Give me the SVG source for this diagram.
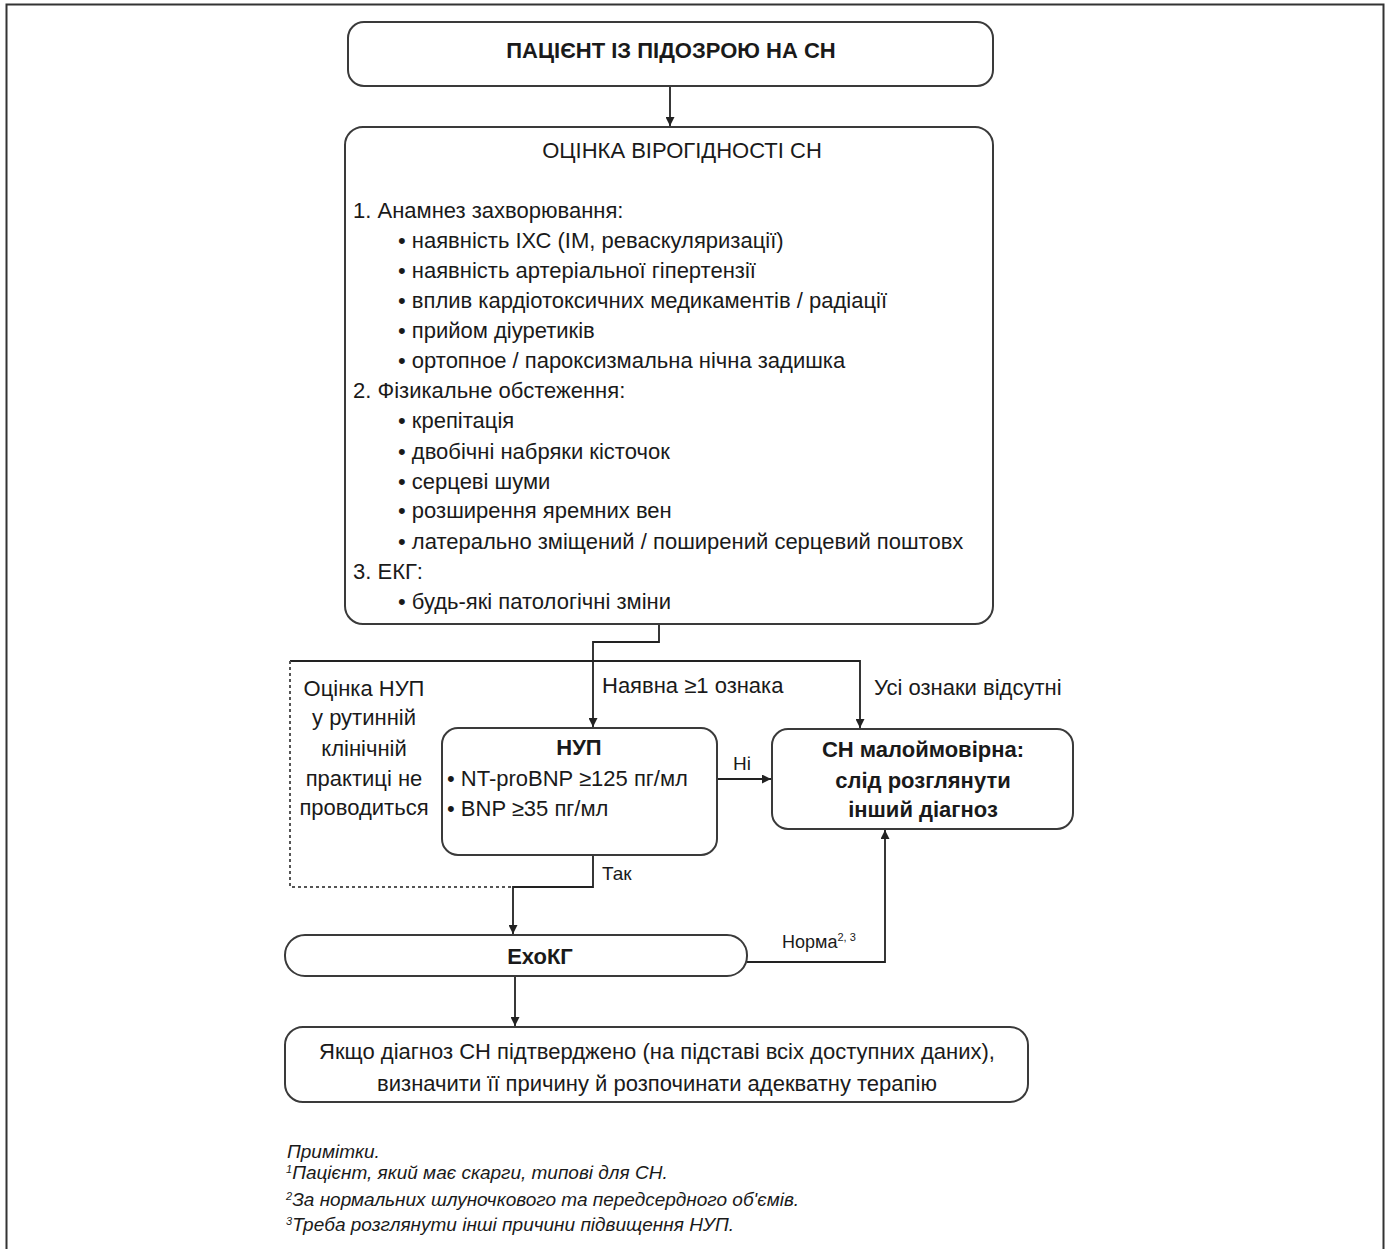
<svg xmlns="http://www.w3.org/2000/svg" width="1390" height="1249" viewBox="0 0 1390 1249">
<defs>
<marker id="ah" viewBox="0 0 10 10" refX="10" refY="5" markerWidth="9" markerHeight="9" markerUnits="userSpaceOnUse" orient="auto">
<path d="M0,0 L10,5 L0,10 z" fill="#222"/>
</marker>
<style>
.box{fill:#fff;stroke:#3a3a3a;stroke-width:2}
.ln{fill:none;stroke:#222;stroke-width:1.8}
.dot{fill:none;stroke:#555;stroke-width:2;stroke-dasharray:3 3}
text{font-family:"Liberation Sans",Arial,sans-serif;fill:#1a1a1a}
.t{font-size:22px}
.b{font-size:22px;font-weight:bold}
.c{text-anchor:middle}
.lab{font-size:22px}
.n{font-size:19px;font-style:italic}
.sup{font-size:11px}
</style>
</defs>
<rect x="6.5" y="4.5" width="1377" height="1270" fill="#fff" stroke="#333" stroke-width="2"/>

<g id="connectors">
<path class="ln" d="M670 86 V126" marker-end="url(#ah)"/>
<path class="ln" d="M659 624 V642 H593 V727" marker-end="url(#ah)"/>
<path class="ln" d="M290 661 H860 V728" marker-end="url(#ah)"/>
<path class="dot" d="M290 661 V887 H513"/>
<path class="ln" d="M593 855 V887 H513 V934" marker-end="url(#ah)"/>
<path class="ln" d="M717 779 H771" marker-end="url(#ah)"/>
<path class="ln" d="M747 962 H885 V830" marker-end="url(#ah)"/>
<path class="ln" d="M515 976 V1026" marker-end="url(#ah)"/>
<text class="lab" x="602" y="693">Наявна ≥1 ознака</text>
<text class="lab" x="874" y="695">Усі ознаки відсутні</text>
<text class="lab" x="733" y="770" style="font-size:19px">Ні</text>
<text class="lab" x="602" y="880" style="font-size:19px">Так</text>
<text x="782" y="948" style="font-size:18px">Норма<tspan class="sup" dy="-7">2, 3</tspan></text>
</g>

<g id="n_patient">
<rect class="box" x="348" y="22" width="645" height="64" rx="16"/>
<text class="b c" x="671" y="58">ПАЦІЄНТ ІЗ ПІДОЗРОЮ НА СН</text>
</g>

<g id="n_assess">
<rect class="box" x="345" y="127" width="648" height="497" rx="18"/>
<text class="t c" x="682" y="158">ОЦІНКА ВІРОГІДНОСТІ СН</text>
<text class="t" x="353" y="218">1. Анамнез захворювання:</text>
<text class="t" x="398" y="248">• наявність ІХС (ІМ, реваскуляризації)</text>
<text class="t" x="398" y="278">• наявність артеріальної гіпертензії</text>
<text class="t" x="398" y="308">• вплив кардіотоксичних медикаментів / радіації</text>
<text class="t" x="398" y="338">• прийом діуретиків</text>
<text class="t" x="398" y="368">• ортопное / пароксизмальна нічна задишка</text>
<text class="t" x="353" y="398">2. Фізикальне обстеження:</text>
<text class="t" x="398" y="428">• крепітація</text>
<text class="t" x="398" y="459">• двобічні набряки кісточок</text>
<text class="t" x="398" y="489">• серцеві шуми</text>
<text class="t" x="398" y="518">• розширення яремних вен</text>
<text class="t" x="398" y="549">• латерально зміщений / поширений серцевий поштовх</text>
<text class="t" x="353" y="579">3. ЕКГ:</text>
<text class="t" x="398" y="609">• будь-які патологічні зміни</text>
</g>

<g id="n_note_nup">
<text class="t c" x="364" y="696">Оцінка НУП</text>
<text class="t c" x="364" y="725">у рутинній</text>
<text class="t c" x="364" y="756">клінічній</text>
<text class="t c" x="364" y="786">практиці не</text>
<text class="t c" x="364" y="815">проводиться</text>
</g>

<g id="n_nup">
<rect class="box" x="442" y="728" width="275" height="127" rx="16"/>
<text class="b c" x="579" y="755">НУП</text>
<text class="t" x="447" y="786">• NT-proBNP ≥125 пг/мл</text>
<text class="t" x="447" y="816">• BNP ≥35 пг/мл</text>
</g>

<g id="n_unlikely">
<rect class="box" x="772" y="729" width="301" height="100" rx="16"/>
<text class="b c" x="923" y="757">СН малоймовірна:</text>
<text class="b c" x="923" y="788">слід розглянути</text>
<text class="b c" x="923" y="817">інший діагноз</text>
</g>

<g id="n_echo">
<rect class="box" x="285" y="935" width="462" height="41" rx="20"/>
<text class="b c" x="540" y="964">ЕхоКГ</text>
</g>

<g id="n_final">
<rect class="box" x="285" y="1027" width="743" height="75" rx="18"/>
<text class="t c" x="657" y="1059">Якщо діагноз СН підтверджено (на підставі всіх доступних даних),</text>
<text class="t c" x="657" y="1091">визначити її причину й розпочинати адекватну терапію</text>
</g>

<g id="notes">
<text class="n" x="287" y="1158">Примітки.</text>
<text class="n" x="286" y="1179"><tspan class="sup" dy="-6">1</tspan><tspan dy="6">Пацієнт, який має скарги, типові для СН.</tspan></text>
<text class="n" x="286" y="1206"><tspan class="sup" dy="-6">2</tspan><tspan dy="6">За нормальних шлуночкового та передсердного об'ємів.</tspan></text>
<text class="n" x="286" y="1231"><tspan class="sup" dy="-6">3</tspan><tspan dy="6">Треба розглянути інші причини підвищення НУП.</tspan></text>
</g>
</svg>
